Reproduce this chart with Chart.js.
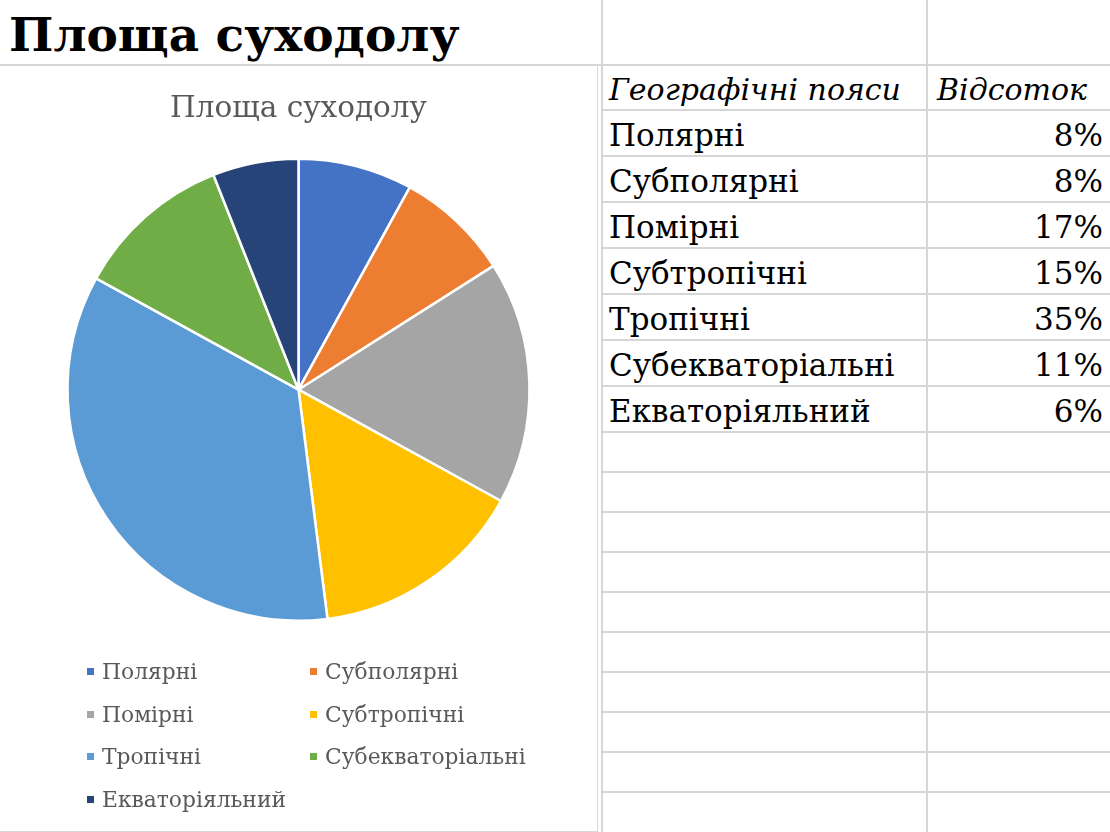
<!DOCTYPE html>
<html><head><meta charset="utf-8">
<script src="https://cdn.jsdelivr.net/npm/chart.js@4.4.1/dist/chart.umd.min.js"></script>
<style>
html,body{margin:0;padding:0;background:#fff;width:1110px;height:832px;overflow:hidden;font-family:"DejaVu Serif",serif;}
.hl{position:absolute;height:2px;background:#d6d6d6;}
.vl{position:absolute;width:2px;background:#d6d6d6;}
#bigtitle{position:absolute;left:9px;top:0;height:65px;line-height:70px;font-weight:bold;font-size:47px;color:#000;white-space:nowrap;}
#chartbox{position:absolute;left:0;top:66px;width:597px;height:765px;border-right:1px solid #d9d9d9;border-bottom:1px solid #d9d9d9;background:#fff;}
#chartbox canvas{position:absolute;left:0;top:0;}
.lg{position:absolute;font-size:21.8px;color:#595959;white-space:nowrap;line-height:26px;}
.lg i{position:absolute;left:-15px;top:9px;width:7px;height:7px;}
.cell{position:absolute;font-size:31px;color:#000;white-space:nowrap;}
.cell.hd{font-size:30px;font-style:italic;}
</style></head>
<body>
<div id="grid"></div>
<div id="bigtitle">Площа суходолу</div>
<div id="chartbox"><canvas id="c" width="597" height="765" style="width:597px;height:765px"></canvas><div id="legend"></div></div>
<div id="table"></div>
<script>
const chartTitle = 'Площа суходолу';
const headerLabels = ['Географічні пояси', 'Відсоток'];
const categories = ['Полярні','Субполярні','Помірні','Субтропічні','Тропічні','Субекваторіальні','Екваторіяльний'];
const shares = [8, 8, 17, 15, 35, 11, 6];
const sliceColors = ['#4472C4','#ED7D31','#A5A5A5','#FFC000','#5B9BD5','#70AD47','#264478'];

// sheet grid
const grid = document.getElementById('grid');
const hLines = [110,156,202,248,294,340,386,432,472,512,552,592,632,672,712,752,792];
let h = '<div class="hl" style="left:0;width:1110px;top:64px"></div>';
hLines.forEach(y => h += '<div class="hl" style="left:601px;width:509px;top:'+(y-1)+'px"></div>');
[601, 926].forEach(x => h += '<div class="vl" style="top:0;height:832px;left:'+x+'px"></div>');
grid.innerHTML = h;

// table
const tbl = document.getElementById('table');
let t = '';
function cell(text, top, hgt, left, right, head){
  let s = 'top:'+top+'px;height:'+hgt+'px;line-height:'+(hgt+4)+'px;';
  if (left !== null) s += 'left:'+left+'px;';
  if (right !== null) s += 'right:'+right+'px;text-align:right;';
  return '<div class="cell'+(head?' hd':'')+'" style="'+s+'">'+text+'</div>';
}
t += cell(headerLabels[0], 65, 45, 609, null, true);
t += cell(headerLabels[1], 65, 45, 937, null, true);
categories.forEach((c, i) => {
  const top = 110 + 46 * i;
  t += cell(c, top, 46, 609, null, false);
  t += cell(shares[i] + '%', top, 46, null, 7, false);
});
tbl.innerHTML = t;

// chart
const chart = new Chart(document.getElementById('c'), {
  type: 'pie',
  data: {
    labels: categories,
    datasets: [{
      data: shares,
      backgroundColor: sliceColors,
      borderColor: '#ffffff',
      borderWidth: 2.5,
      hoverOffset: 0
    }]
  },
  options: {
    responsive: false,
    animation: false,
    radius: 231,
    layout: { padding: { top: 0, bottom: 179, left: 0, right: 0 } },
    plugins: {
      legend: { display: false },
      tooltip: { enabled: false },
      title: {
        display: true,
        text: chartTitle,
        color: '#595959',
        font: { family: '"DejaVu Serif", serif', size: 29.5, weight: 'normal', lineHeight: 1.2 },
        padding: { top: 26, bottom: 0 }
      }
    }
  }
});

// legend built from the chart's own items
const items = chart.options.plugins.legend.labels.generateLabels(chart);
const colX = [102, 325];
const rowY = [672, 715, 757, 800];
let lg = '';
items.forEach((it, i) => {
  const x = colX[i % 2], y = rowY[Math.floor(i / 2)] - 66 - 13;
  lg += '<div class="lg" style="left:'+x+'px;top:'+y+'px"><i style="background:'+it.fillStyle+'"></i>'+it.text+'</div>';
});
document.getElementById('legend').innerHTML = lg;
</script>
</body></html>
